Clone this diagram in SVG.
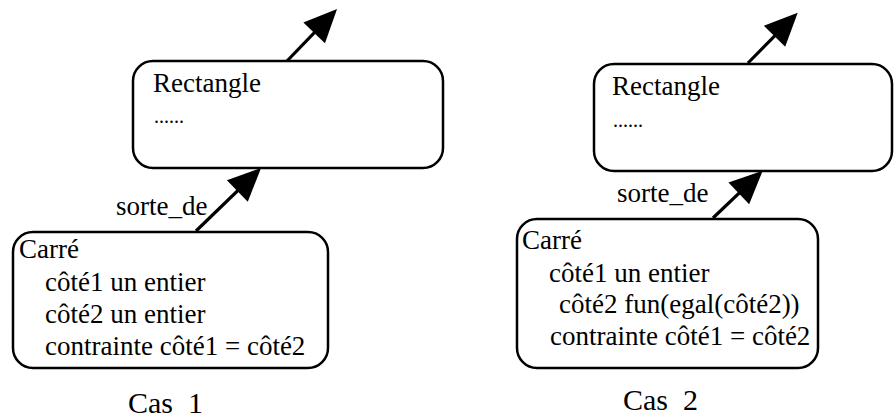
<svg xmlns="http://www.w3.org/2000/svg" width="894" height="419" viewBox="0 0 894 419">
<style>
.box{fill:#fff;stroke:#000;stroke-width:2.5}
text{font-family:"Liberation Serif",serif;fill:#000}
.t{font-size:27px}
.dots{font-size:20px}
.cap{font-size:30px;white-space:pre}
.edge{stroke:#000;stroke-width:3.2;fill:none;marker-end:url(#ah)}
</style>
<defs>
<marker id="ah" markerUnits="userSpaceOnUse" markerWidth="40" markerHeight="34" viewBox="0 0 40 34" refX="25" refY="15" orient="auto" overflow="visible">
<path d="M0,0 L33,15 L0,30 Z" fill="#000"/>
</marker>
</defs>
<g id="connectors">
<line class="edge" x1="287" y1="61" x2="331.5" y2="14.8"/>
<line class="edge" x1="196" y1="231" x2="255.3" y2="173.6"/>
<line class="edge" x1="748" y1="63" x2="792.1" y2="18.4"/>
<line class="edge" x1="713" y1="218" x2="756.9" y2="176.2"/>
<text class="t" x="116" y="215">sorte_de</text>
<text class="t" x="617" y="202">sorte_de</text>
</g>
<g id="rect1">
<rect class="box" x="133" y="61" width="310" height="107" rx="20"/>
<text class="t" x="153" y="92">Rectangle</text>
<text class="dots" x="154" y="123">......</text>
</g>
<g id="carre1">
<rect class="box" x="13" y="232" width="315" height="136" rx="20"/>
<text class="t" x="19" y="258">Carré</text>
<text class="t" x="45" y="291">côté1 un entier</text>
<text class="t" x="45" y="323">côté2 un entier</text>
<text class="t" x="45" y="355">contrainte côté1 = côté2</text>
</g>
<g id="rect2">
<rect class="box" x="594" y="64" width="298" height="107" rx="20"/>
<text class="t" x="612" y="95">Rectangle</text>
<text class="dots" x="613" y="127">......</text>
</g>
<g id="carre2">
<rect class="box" x="517" y="219" width="301" height="149" rx="20"/>
<text class="t" x="522" y="249">Carré</text>
<text class="t" x="549" y="282">côté1 un entier</text>
<text class="t" x="559" y="313">côté2 fun(egal(côté2))</text>
<text class="t" x="550" y="345">contrainte côté1 = côté2</text>
</g>
<g id="captions">
<text class="cap" x="128" y="413" xml:space="preserve">Cas  1</text>
<text class="cap" x="623" y="410" xml:space="preserve">Cas  2</text>
</g>
</svg>
